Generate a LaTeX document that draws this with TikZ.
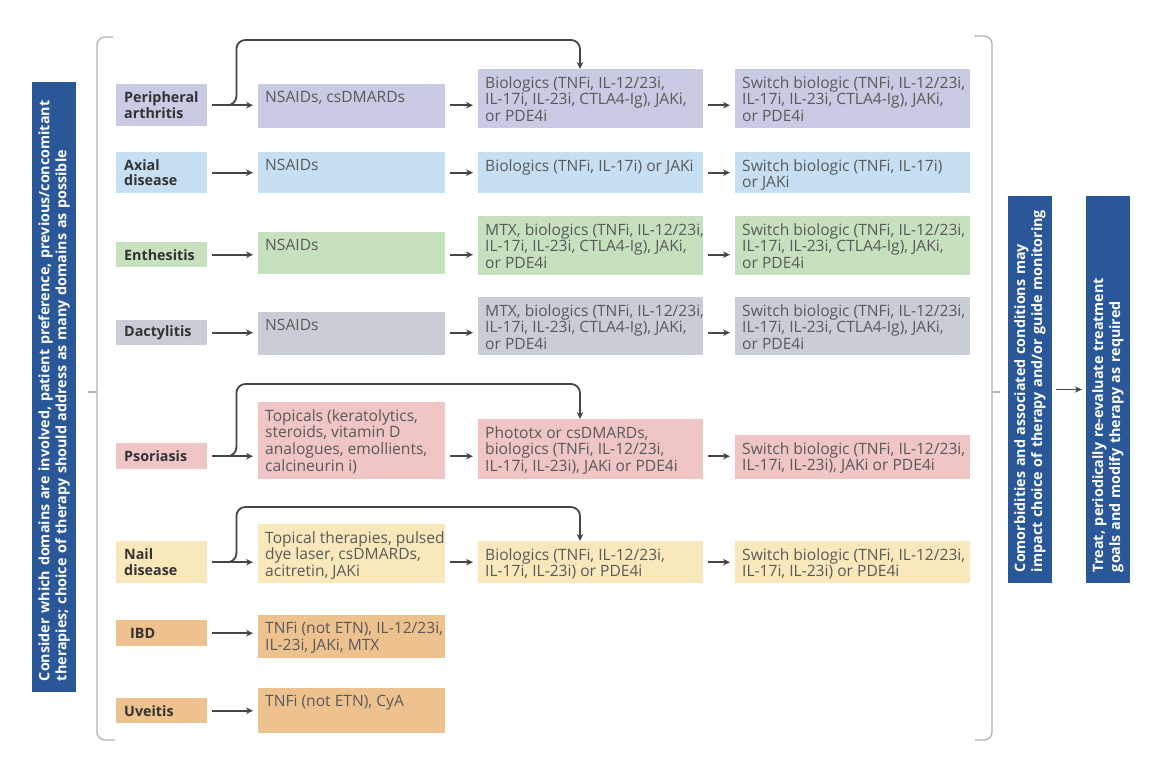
\documentclass[tikz,border=0pt]{standalone}
\usepackage{fontspec}
\setmainfont{Open Sans}
\usetikzlibrary{arrows.meta,calc}
\definecolor{cper}{HTML}{C9CAE3}
\definecolor{caxi}{HTML}{C6DFF2}
\definecolor{cent}{HTML}{C7E1BF}
\definecolor{cdac}{HTML}{C9CED6}
\definecolor{cpso}{HTML}{EFC5C5}
\definecolor{cnai}{HTML}{F8E8BC}
\definecolor{cibd}{HTML}{EEC28F}
\definecolor{navy}{HTML}{2A5797}
\definecolor{txtgray}{HTML}{5A5A5A}
\definecolor{labgray}{HTML}{333333}
\definecolor{arrgray}{HTML}{454545}
\definecolor{brk}{HTML}{B0B0B0}
\newcommand\mybox[7]{%
  \node[rbox,fill=#2,minimum width=#5pt,minimum height=#6pt] (#1) at (#3,#4) {};
  \node[txt] at ([shift={(7,7)}]#1.north west) {#7};}
\newcommand\mylab[7]{%
  \node[lab,fill=#2,minimum height=#6pt] (#1) at (#3,#4) {#7};}
\begin{document}
\begin{tikzpicture}[x=1pt,y=-1pt,
  rbox/.style={draw=none,anchor=north west,inner sep=0pt},
  txt/.style={anchor=north west,inner sep=0pt,align=left,text=txtgray,
    font=\fontsize{15.6}{16.7}\selectfont},
  lab/.style={anchor=north west,inner ysep=0pt,inner xsep=8pt,text width=75pt,
    minimum width=91pt,align=left,text=labgray,
    font=\bfseries\fontsize{14.3}{15.2}\selectfont},
  vbar/.style={fill=navy,rotate=90,minimum height=44pt,inner xsep=11pt,inner ysep=0pt,
    align=left,text=white,font=\bfseries\fontsize{14.3}{17}\selectfont},
  arr/.style={draw=arrgray,line width=1.8pt,-{Stealth[length=7pt,width=6.5pt]}},
  brack/.style={draw=brk,line width=1.3pt,rounded corners=8pt}]
\useasboundingbox (0,0) rectangle (1156,766);
% vertical bars
\node[vbar,minimum width=610pt,text width=588pt] (L) at (54,387)
  {Consider which domains are involved, patient preference, previous/concomitant\\therapies; choice of therapy should address as many domains as possible};
\node[vbar,minimum width=387pt,text width=365pt] (M) at (1030,389.5)
  {Comorbidities and associated conditions may\\impact choice of therapy and/or guide monitoring};
\node[vbar,minimum width=387pt,text width=365pt] (R) at (1108,389.5)
  {Treat, periodically re-evaluate treatment\\goals and modify therapy as required};
\draw[arr,shorten <=4pt,shorten >=4pt] (M.south) -- (R.north);
% brackets
\coordinate (lbt) at (113,37);
\coordinate (lbb) at (115,740);
\draw[brack] (lbt) -- (97,37) -- (97,740) -- (lbb);
\draw[draw=brk,line width=1.3pt] (88,392) -- (97,392);
\coordinate (rbt) at (974,36);
\coordinate (rbb) at (975,740);
\draw[brack] (rbt) -- (992,36) -- (992,740) -- (rbb);
\draw[draw=brk,line width=1.3pt] (992,392) -- (1000,392);
% row 1
\mylab{l1}{cper}{116}{84}{91}{42}{Peripheral\\arthritis}
\mybox{a1}{cper}{258}{84}{187}{44}{NSAIDs, csDMARDs}
\mybox{b1}{cper}{478}{69}{225}{59}{Biologics (TNFi, IL-12/23i,\\IL-17i, IL-23i, CTLA4-Ig), JAKi,\\or PDE4i}
\mybox{c1}{cper}{735}{69}{235}{59}{Switch biologic (TNFi, IL-12/23i,\\IL-17i, IL-23i, CTLA4-Ig), JAKi,\\or PDE4i}
% row 2
\mylab{l2}{caxi}{116}{152}{91}{41}{Axial\\disease}
\mybox{a2}{caxi}{258}{152}{187}{41}{NSAIDs}
\mybox{b2}{caxi}{478}{152}{225}{41}{Biologics (TNFi, IL-17i) or JAKi}
\mybox{c2}{caxi}{735}{152}{235}{41}{Switch biologic (TNFi, IL-17i)\\or JAKi}
% row 3
\mylab{l3}{cent}{116}{242}{91}{25}{Enthesitis}
\mybox{a3}{cent}{258}{232}{187}{42}{NSAIDs}
\mybox{b3}{cent}{478}{216}{225}{59}{MTX, biologics (TNFi, IL-12/23i,\\IL-17i, IL-23i, CTLA4-Ig), JAKi,\\or PDE4i}
\mybox{c3}{cent}{735}{216}{235}{59}{Switch biologic (TNFi, IL-12/23i,\\IL-17i, IL-23i, CTLA4-Ig), JAKi,\\or PDE4i}
% row 4
\mylab{l4}{cdac}{116}{320}{91}{25}{Dactylitis}
\mybox{a4}{cdac}{258}{312}{187}{43}{NSAIDs}
\mybox{b4}{cdac}{478}{297}{225}{58}{MTX, biologics (TNFi, IL-12/23i,\\IL-17i, IL-23i, CTLA4-Ig), JAKi,\\or PDE4i}
\mybox{c4}{cdac}{735}{297}{235}{58}{Switch biologic (TNFi, IL-12/23i,\\IL-17i, IL-23i, CTLA4-Ig), JAKi,\\or PDE4i}
% row 5
\mylab{l5}{cpso}{116}{443}{91}{26}{Psoriasis}
\mybox{a5}{cpso}{258}{402}{187}{77}{Topicals (keratolytics,\\steroids, vitamin D\\analogues, emollients,\\calcineurin i)}
\mybox{b5}{cpso}{478}{419}{225}{60}{Phototx or csDMARDs,\\biologics (TNFi, IL-12/23i,\\IL-17i, IL-23i), JAKi or PDE4i}
\mybox{c5}{cpso}{735}{435}{235}{44}{Switch biologic (TNFi, IL-12/23i,\\IL-17i, IL-23i), JAKi or PDE4i}
% row 6
\mylab{l6}{cnai}{116}{541}{91}{42}{Nail\\disease}
\mybox{a6}{cnai}{258}{524}{187}{59}{Topical therapies, pulsed\\dye laser, csDMARDs,\\acitretin, JAKi}
\mybox{b6}{cnai}{478}{541}{225}{42}{Biologics (TNFi, IL-12/23i,\\IL-17i, IL-23i) or PDE4i}
\mybox{c6}{cnai}{735}{541}{235}{42}{Switch biologic (TNFi, IL-12/23i,\\IL-17i, IL-23i) or PDE4i}
% row 7, 8
\mylab{l7}{cibd}{116}{620}{91}{26}{\hspace*{6pt}IBD}
\mybox{a7}{cibd}{258}{615}{187}{43}{TNFi (not ETN), IL-12/23i,\\IL-23i, JAKi, MTX}
\mylab{l8}{cibd}{116}{698}{91}{25}{Uveitis}
\mybox{a8}{cibd}{258}{688}{187}{45}{TNFi (not ETN), CyA}
% arrows
\foreach \r in {1,...,8}{
  \draw[arr,shorten <=5pt,shorten >=5pt] (l\r.east) -- (l\r.east -| a\r.west);}
\foreach \r in {1,...,6}{
  \draw[arr,shorten <=5pt,shorten >=5pt] (l\r.east -| a\r.east) -- (l\r.east -| b\r.west);
  \draw[arr,shorten <=5pt,shorten >=5pt] (l\r.east -| b\r.east) -- (l\r.east -| c\r.west);}
% skip arrows
\coordinate (k1) at ([xshift=19pt]l1.east);
\coordinate (t1) at (580,40);
\draw[arr,rounded corners=9pt] (k1) -- ++(10,0) |- (t1) -- (t1 |- b1.north);
\coordinate (k5) at ([xshift=19pt]l5.east);
\coordinate (t5) at (580,384);
\draw[arr,rounded corners=9pt] (k5) -- ++(10,0) |- (t5) -- (t5 |- b5.north);
\coordinate (k6) at ([xshift=19pt]l6.east);
\coordinate (t6) at (580,507);
\draw[arr,rounded corners=9pt] (k6) -- ++(10,0) |- (t6) -- (t6 |- b6.north);
\end{tikzpicture}
\end{document}
